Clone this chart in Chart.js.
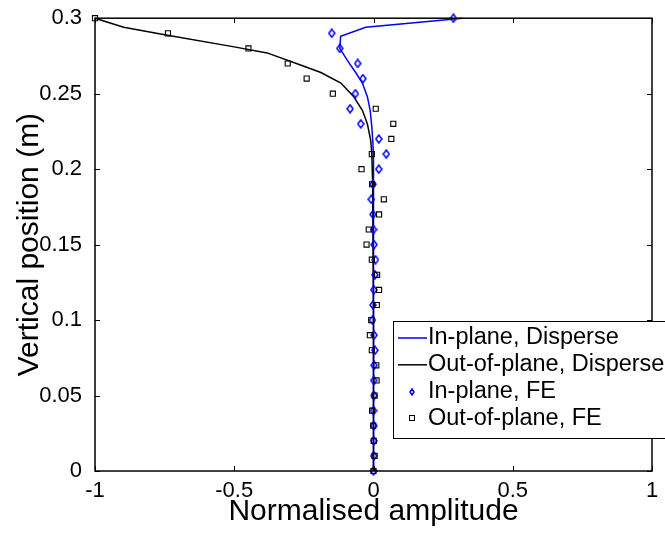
<!DOCTYPE html>
<html>
<head>
<meta charset="utf-8">
<script src="https://cdn.jsdelivr.net/npm/chart.js@4/dist/chart.umd.min.js"></script>
<style>
  html, body { margin: 0; padding: 0; background: #fff; }
  #wrap { width: 665px; height: 534px; }
</style>
</head>
<body>
<div id="wrap"><canvas id="chart" width="665" height="534"></canvas></div>
<script>
// vertical positions of the FE nodes (m)
const fePositions = [0, 0.01, 0.02, 0.03, 0.04, 0.05, 0.06, 0.07, 0.08, 0.09, 0.1,
  0.11, 0.12, 0.13, 0.14, 0.15, 0.16, 0.17, 0.18, 0.19, 0.2,
  0.21, 0.22, 0.23, 0.24, 0.25, 0.26, 0.27, 0.28, 0.29, 0.3];
const inPlaneFE = [0, 0.001, 0.001, 0.001, 0, 0.002, 0.001, 0.002, 0.005, 0.002, -0.004,
  -0.002, 0.001, 0.005, 0.007, 0.002, 0, -0.002, -0.008, -0.002, 0.019,
  0.046, 0.019, -0.046, -0.084, -0.065, -0.038, -0.057, -0.121, -0.15, 0.287];
const outOfPlaneFE = [0, 0.004, 0.001, -0.001, -0.005, 0.004, 0.011, 0.01, -0.006, -0.013, -0.008,
  0.012, 0.02, 0.013, -0.006, -0.025, -0.017, 0.02, 0.037, -0.005, -0.043,
  -0.006, 0.064, 0.071, 0.008, -0.146, -0.24, -0.308, -0.449, -0.738, -1];

// Disperse curves
const inPlanePos = [0, 0.1, 0.15, 0.206, 0.217, 0.228, 0.239, 0.248, 0.257, 0.264, 0.272, 0.28, 0.288, 0.294, 0.3];
const inPlaneAmp = [0, 0, 0, 0, -0.002, -0.006, -0.012, -0.022, -0.04, -0.064, -0.094, -0.121, -0.118, -0.028, 0.32];
const outOfPlanePos = [0, 0.1, 0.19, 0.21, 0.219, 0.23, 0.239, 0.248, 0.257, 0.264, 0.269, 0.277, 0.281, 0.289, 0.294, 0.3];
const outOfPlaneAmp = [0, 0, -0.003, -0.006, -0.01, -0.022, -0.04, -0.071, -0.117, -0.189, -0.262, -0.382, -0.5, -0.75, -0.897, -1];

const xTicks = [-1, -0.5, 0, 0.5, 1];
const yTicks = [0, 0.05, 0.1, 0.15, 0.2, 0.25, 0.3];

const FONT = 'Arial, "Liberation Sans", Helvetica, sans-serif';

const toPoints = (xs, ys) => xs.map((x, i) => ({ x, y: ys[i] }));

// matlab diamonds are a bit taller than wide
function makeDiamond(w, h, color) {
  const c = document.createElement("canvas");
  c.width = w + 2;
  c.height = h + 2;
  const g = c.getContext("2d");
  g.strokeStyle = color;
  g.lineWidth = 1.5;
  g.beginPath();
  g.moveTo(c.width / 2, 1);
  g.lineTo(c.width - 1, c.height / 2);
  g.lineTo(c.width / 2, c.height - 1);
  g.lineTo(1, c.height / 2);
  g.closePath();
  g.stroke();
  return c;
}
const diamond = makeDiamond(6, 8, "#0000ff");
const smallDiamond = makeDiamond(4, 6, "#0000ff");

// MATLAB style box with inward ticks on all sides
const frameTicks = {
  id: "frameTicks",
  afterDatasetsDraw(chart) {
    const { ctx, chartArea: a } = chart;
    const xs = chart.scales.x;
    const ys = chart.scales.y;
    ctx.save();
    ctx.strokeStyle = "#000";
    ctx.lineWidth = 1.5;
    ctx.strokeRect(a.left, a.top, a.right - a.left, a.bottom - a.top);
    ctx.lineWidth = 1;
    ctx.beginPath();
    xTicks.forEach((v) => {
      const px = Math.round(xs.getPixelForValue(v)) + 0.5;
      ctx.moveTo(px, a.bottom); ctx.lineTo(px, a.bottom - 5);
      ctx.moveTo(px, a.top); ctx.lineTo(px, a.top + 5);
    });
    yTicks.forEach((v) => {
      const py = Math.round(ys.getPixelForValue(v)) + 0.5;
      ctx.moveTo(a.left, py); ctx.lineTo(a.left + 5, py);
      ctx.moveTo(a.right, py); ctx.lineTo(a.right - 5, py);
    });
    ctx.stroke();
    ctx.restore();
  },
};

// legend box sits partly past the right edge, like the original
const legendBox = {
  id: "legendBox",
  afterDraw(chart) {
    const { ctx } = chart;
    ctx.save();
    ctx.fillStyle = "#fff";
    ctx.strokeStyle = "#000";
    ctx.lineWidth = 1;
    ctx.fillRect(393.5, 321.5, 320, 117);
    ctx.strokeRect(393.5, 321.5, 320, 117);
    ctx.font = "23.5px " + FONT;
    ctx.textBaseline = "middle";
    chart.data.datasets.forEach((ds, i) => {
      const y = 338 + i * 26.8;
      ctx.strokeStyle = ds.borderColor;
      if (ds.showLine) {
        ctx.lineWidth = 1.5;
        ctx.beginPath();
        ctx.moveTo(398, y);
        ctx.lineTo(427, y);
        ctx.stroke();
      } else if (ds.pointStyle === "rect") {
        ctx.lineWidth = 1;
        ctx.strokeRect(409.5, Math.round(y) - 2.5, 5, 5);
      } else {
        ctx.drawImage(smallDiamond, 409, Math.round(y) - 4);
      }
      ctx.fillStyle = "#000";
      ctx.fillText(ds.label, 428, y);
    });
    ctx.restore();
  },
};

new Chart(document.getElementById("chart"), {
  type: "scatter",
  data: {
    datasets: [
      {
        label: "In-plane, Disperse",
        data: toPoints(inPlaneAmp, inPlanePos),
        showLine: true,
        borderColor: "#0000ff",
        borderWidth: 1.5,
        pointRadius: 0,
        tension: 0,
        clip: false,
        order: 3,
      },
      {
        label: "Out-of-plane, Disperse",
        data: toPoints(outOfPlaneAmp, outOfPlanePos),
        showLine: true,
        borderColor: "#000000",
        borderWidth: 1.5,
        pointRadius: 0,
        tension: 0,
        clip: false,
        order: 2,
      },
      {
        label: "In-plane, FE",
        data: toPoints(inPlaneFE, fePositions),
        showLine: false,
        borderColor: "#0000ff",
        backgroundColor: "rgba(0,0,0,0)",
        pointStyle: diamond,
        pointRadius: 4,
        clip: false,
        order: 1,
      },
      {
        label: "Out-of-plane, FE",
        data: toPoints(outOfPlaneFE, fePositions),
        showLine: false,
        borderColor: "#000000",
        backgroundColor: "rgba(0,0,0,0)",
        pointStyle: "rect",
        pointRadius: 3.6,
        pointBorderWidth: 1.1,
        clip: false,
        order: 0,
      },
    ],
  },
  options: {
    responsive: false,
    animation: false,
    devicePixelRatio: 1,
    layout: { padding: { top: 18, right: 13, left: 0, bottom: 0 } },
    plugins: {
      legend: { display: false },
      tooltip: { enabled: false },
    },
    scales: {
      x: {
        type: "linear",
        min: -1,
        max: 1,
        afterBuildTicks: (s) => { s.ticks = xTicks.map((v) => ({ value: v })); },
        afterFit: (s) => { s.height = 63; },
        grid: { display: false },
        border: { display: false },
        ticks: {
          color: "#000",
          font: { family: FONT, size: 22 },
          padding: -1,
          maxRotation: 0,
          callback: (v) => String(v),
        },
        title: {
          display: true,
          text: "Normalised amplitude",
          color: "#000",
          font: { family: FONT, size: 30 },
          padding: { top: 0, bottom: 4 },
        },
      },
      y: {
        type: "linear",
        min: 0,
        max: 0.3,
        afterBuildTicks: (s) => { s.ticks = yTicks.map((v) => ({ value: v })); },
        afterFit: (s) => { s.width = 95; },
        grid: { display: false },
        border: { display: false },
        ticks: {
          color: "#000",
          font: { family: FONT, size: 22 },
          padding: 5,
          callback: (v) => String(v),
        },
        title: {
          display: true,
          text: "Vertical position (m)",
          color: "#000",
          font: { family: FONT, size: 30 },
          padding: { top: 12, bottom: 0 },
        },
      },
    },
  },
  plugins: [frameTicks, legendBox],
});
</script>
</body>
</html>
